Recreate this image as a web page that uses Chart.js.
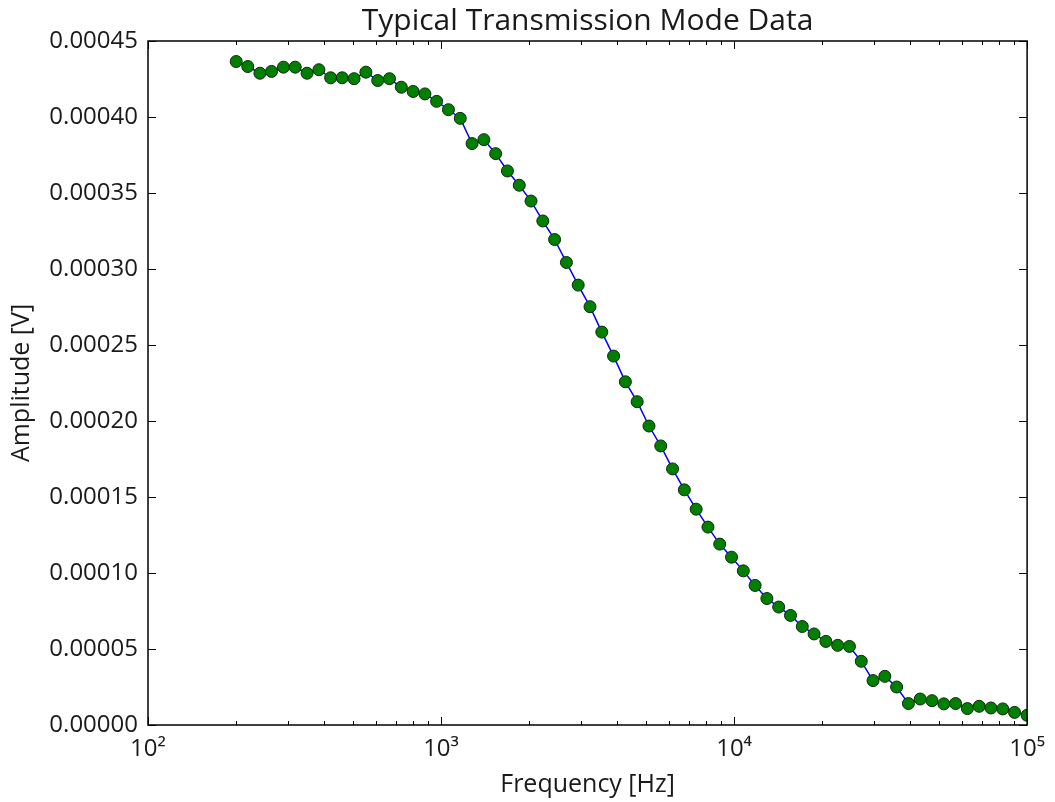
<!DOCTYPE html>
<html>
<head>
<meta charset="utf-8">
<title>Typical Transmission Mode Data</title>
<script src="https://cdn.jsdelivr.net/npm/chart.js@4/dist/chart.umd.min.js"></script>
<style>
	html, body { margin: 0; padding: 0; background: #fff; }
	#wrap { width: 1055px; height: 802px; position: relative; }
</style>
</head>
<body>
<div id="wrap"><canvas id="tmChart"></canvas></div>
<script>
// frequency points [Hz]
const frequencies = [
	200, 219, 241, 264, 290, 318, 349, 383, 420, 460,
	505, 554, 608, 667, 732, 803, 881, 966, 1060, 1163,
	1276, 1400, 1536, 1685, 1849, 2028, 2225, 2441, 2678, 2938,
	3224, 3537, 3880, 4257, 4670, 5124, 5621, 6167, 6766, 7423,
	8144, 8934, 9802, 10754, 11798, 12943, 14200, 15579, 17092, 18751,
	20572, 22570, 24761, 27165, 29803, 32697, 35872, 39354, 43176, 47368,
	51967, 57013, 62548, 68621, 75284, 82593, 90612, 100000
];

// measured amplitude [V]
const amplitudes = [
	4.365e-4, 4.332e-4, 4.288e-4, 4.300e-4, 4.328e-4, 4.328e-4, 4.288e-4, 4.311e-4, 4.258e-4, 4.258e-4,
	4.252e-4, 4.295e-4, 4.240e-4, 4.252e-4, 4.196e-4, 4.168e-4, 4.152e-4, 4.103e-4, 4.048e-4, 3.991e-4,
	3.825e-4, 3.851e-4, 3.759e-4, 3.645e-4, 3.551e-4, 3.447e-4, 3.316e-4, 3.194e-4, 3.043e-4, 2.894e-4,
	2.752e-4, 2.585e-4, 2.427e-4, 2.258e-4, 2.127e-4, 1.967e-4, 1.836e-4, 1.685e-4, 1.547e-4, 1.420e-4,
	1.302e-4, 1.190e-4, 1.104e-4, 1.014e-4, 0.918e-4, 0.832e-4, 0.776e-4, 0.721e-4, 0.648e-4, 0.599e-4,
	0.550e-4, 0.524e-4, 0.517e-4, 0.419e-4, 0.292e-4, 0.320e-4, 0.250e-4, 0.141e-4, 0.171e-4, 0.160e-4,
	0.139e-4, 0.141e-4, 0.108e-4, 0.123e-4, 0.112e-4, 0.106e-4, 0.083e-4, 0.064e-4
];

const chartTitle = 'Typical Transmission Mode Data';
const yTicks = [0, 0.00005, 0.0001, 0.00015, 0.0002, 0.00025, 0.0003, 0.00035, 0.0004, 0.00045];
const xMajorTicks = [100, 1000, 10000, 100000];
const xTickLabels = ['10²', '10³', '10⁴', '10⁵'];
const xMinorFactors = [2, 3, 4, 5, 6, 7, 8, 9];

const fontFamily = "'Open Sans', 'DejaVu Sans', sans-serif";

document.addEventListener('DOMContentLoaded', () => {
	createChart();
});

function buildXTicks() {
	const ticks = [];
	xMajorTicks.forEach((major, i) => {
		ticks.push({ value: major, major: true });
		if (i < xMajorTicks.length - 1) {
			xMinorFactors.forEach((f) => ticks.push({ value: major * f, major: false }));
		}
	});
	return ticks;
}

// matplotlib-style box with inward ticks, title centred over the axes
const frameTicks = {
	id: 'frameTicks',
	afterDraw(chart) {
		const { ctx, chartArea: a, scales } = chart;
		ctx.save();
		ctx.strokeStyle = '#000';
		ctx.lineWidth = 1;
		scales.x.ticks.forEach((t) => {
			const px = Math.round(scales.x.getPixelForValue(t.value)) + 0.5;
			const len = t.major ? 8 : 4;
			ctx.beginPath();
			ctx.moveTo(px, a.bottom);
			ctx.lineTo(px, a.bottom - len);
			ctx.moveTo(px, a.top);
			ctx.lineTo(px, a.top + len);
			ctx.stroke();
		});
		scales.y.ticks.forEach((t) => {
			const py = Math.round(scales.y.getPixelForValue(t.value)) + 0.5;
			ctx.beginPath();
			ctx.moveTo(a.left, py);
			ctx.lineTo(a.left + 8, py);
			ctx.moveTo(a.right, py);
			ctx.lineTo(a.right - 8, py);
			ctx.stroke();
		});
		ctx.lineWidth = 1.5;
		ctx.strokeRect(a.left, a.top, a.right - a.left, a.bottom - a.top);

		ctx.fillStyle = '#1a1a1a';
		ctx.font = '30px ' + fontFamily;
		ctx.textAlign = 'center';
		ctx.textBaseline = 'alphabetic';
		ctx.fillText(chartTitle, (a.left + a.right) / 2, a.top - 11);
		ctx.restore();
	},
};

function createChart() {
	const points = frequencies.map((f, i) => ({ x: f, y: amplitudes[i] }));
	Chart.defaults.font.family = fontFamily;
	Chart.defaults.color = '#1a1a1a';

	const ctx = document.getElementById('tmChart').getContext('2d');
	new Chart(ctx, {
		type: 'scatter',
		data: {
			datasets: [
				{
					label: 'Amplitude',
					data: points,
					showLine: true,
					borderColor: '#0000ff',
					borderWidth: 1.5,
					pointRadius: 6,
					pointHoverRadius: 6,
					pointBackgroundColor: '#007f00',
					pointBorderColor: '#0a2a0a',
					pointBorderWidth: 1,
				},
			],
		},
		plugins: [frameTicks],
		options: {
			responsive: true,
			maintainAspectRatio: false,
			animation: false,
			layout: { padding: { left: 0, right: 25, top: 41, bottom: 0 } },
			plugins: {
				legend: { display: false },
				tooltip: { enabled: false },
				title: { display: false },
			},
			scales: {
				x: {
					type: 'logarithmic',
					min: 100,
					max: 100000,
					afterBuildTicks: (scale) => {
						scale.ticks = buildXTicks();
					},
					afterFit: (scale) => {
						scale.height = 77;
					},
					ticks: {
						autoSkip: false,
						maxRotation: 0,
						padding: 10,
						font: { size: 24 },
						callback: (value) => {
							const i = xMajorTicks.indexOf(value);
							return i >= 0 ? xTickLabels[i] : '';
						},
					},
					grid: { display: false, drawTicks: false },
					border: { display: false },
					title: {
						display: true,
						text: 'Frequency [Hz]',
						font: { size: 25 },
						padding: { top: 0, bottom: 2 },
					},
				},
				y: {
					min: 0,
					max: 0.00045,
					afterBuildTicks: (scale) => {
						scale.ticks = yTicks.map((v) => ({ value: v }));
					},
					afterFit: (scale) => {
						scale.width = 148;
					},
					ticks: {
						padding: 10,
						font: { size: 24 },
						callback: (value) => Number(value).toFixed(5),
					},
					grid: { display: false, drawTicks: false },
					border: { display: false },
					title: {
						display: true,
						text: 'Amplitude [V]',
						font: { size: 25 },
						padding: { top: 7, bottom: 0 },
					},
				},
			},
		},
	});
}
</script>
</body>
</html>
